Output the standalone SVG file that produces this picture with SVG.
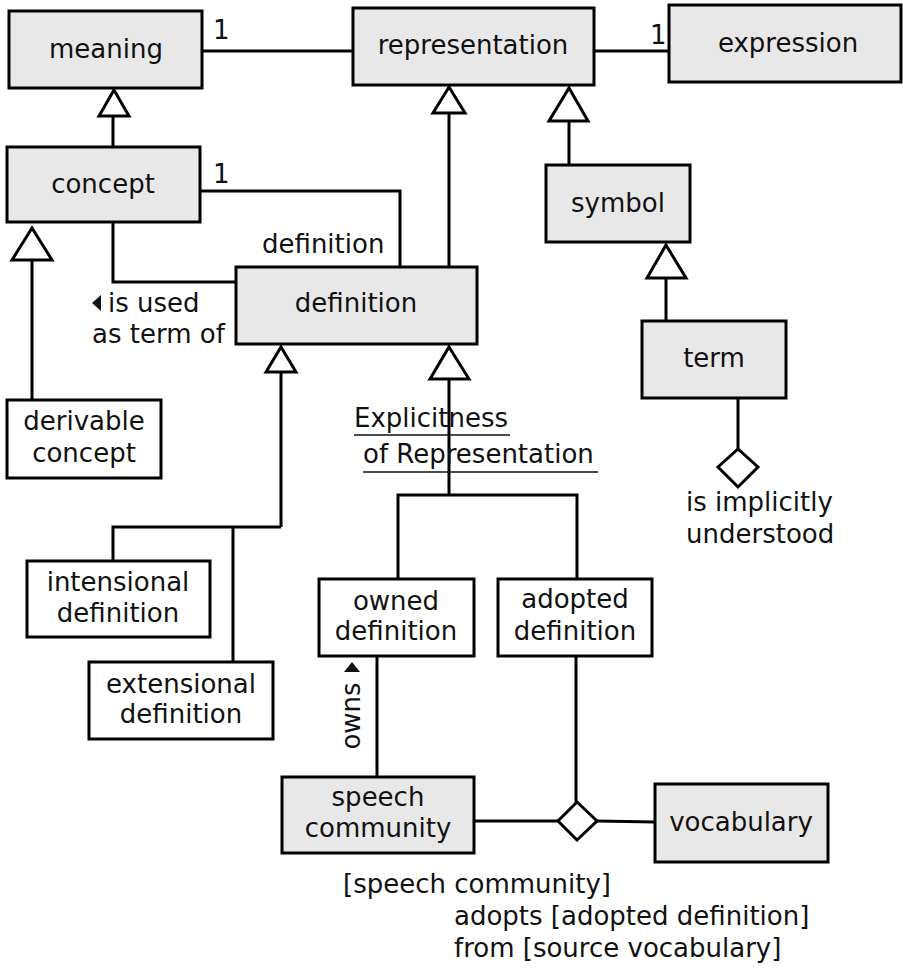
<svg xmlns="http://www.w3.org/2000/svg" width="903" height="972" viewBox="0 0 903 972">
<style>
.n{stroke:#000;stroke-width:3}
.g{fill:#e8e8e8}
.w{fill:#fff}
text{font-family:"DejaVu Sans","Liberation Sans",sans-serif;font-size:26px;fill:#111}
.c{text-anchor:middle}
.l{fill:none;stroke:#000;stroke-width:3}
.t{fill:#fff;stroke:#000;stroke-width:3;stroke-linejoin:miter}
</style>
<rect width="903" height="972" fill="#fff"/>
<g id="connectors">
<path class="l" d="M202 51H353M594 51H669"/>
<path class="l" d="M200 191H400V267M113 222V282H236"/>
<path class="l" d="M113 116V147M32 260V400M449 113V267M569 121V165M666 278V321"/>
<path class="l" d="M281 372V527M113 561V527H281M233 527V662"/>
<path class="l" d="M449 379V495M398 579V495H577V579"/>
<path class="l" d="M377 656V777M576 656V802M474 821H558M597 821L655 822M738 398V449"/>
<polygon class="t" points="114,90 129,116 99,116"/>
<polygon class="t" points="32,228 52,260 12,260"/>
<polygon class="t" points="449,87 465,113 433,113"/>
<polygon class="t" points="569,88 588,121 549,121"/>
<polygon class="t" points="666,245 686,278 647,278"/>
<polygon class="t" points="281,347 296,372 266,372"/>
<polygon class="t" points="449,347 469,379 430,379"/>
<polygon class="t" points="738,449 758,467 738,487 718,467"/>
<polygon class="t" points="577,802 597,821 577,840 558,821"/>
<text x="213" y="39">1</text>
<text x="650" y="44">1</text>
<text x="213" y="183">1</text>
<text x="262" y="253">definition</text>
<polygon points="92,303 101,295 101,311" fill="#111"/>
<text x="108" y="312">is used</text>
<text x="92" y="343">as term of</text>
<text x="354" y="427">Explicitness</text>
<path d="M354 435H510M363 472H598" stroke="#111" stroke-width="1.5"/>
<text x="363" y="463">of Representation</text>
<text x="686" y="511">is implicitly</text>
<text x="686" y="543">understood</text>
<polygon points="352,662 360,672 344,672" fill="#111"/>
<text class="c" transform="translate(360,716) rotate(-90)">owns</text>
<text x="343" y="893">[speech community]</text>
<text x="454" y="925">adopts [adopted definition]</text>
<text x="454" y="957">from [source vocabulary]</text>
</g>
<g id="meaning"><rect class="n g" x="9" y="11" width="193" height="77"/><text class="c" x="106" y="58">meaning</text></g>
<g id="representation"><rect class="n g" x="353" y="8" width="241" height="77"/><text class="c" x="473" y="54">representation</text></g>
<g id="expression"><rect class="n g" x="669" y="5" width="232" height="77"/><text class="c" x="788" y="52">expression</text></g>
<g id="concept"><rect class="n g" x="7" y="147" width="193" height="75"/><text class="c" x="103" y="193">concept</text></g>
<g id="symbol"><rect class="n g" x="546" y="165" width="144" height="77"/><text class="c" x="618" y="212">symbol</text></g>
<g id="definition"><rect class="n g" x="236" y="267" width="241" height="77"/><text class="c" x="356" y="312">definition</text></g>
<g id="term"><rect class="n g" x="642" y="321" width="144" height="77"/><text class="c" x="714" y="367">term</text></g>
<g id="derivable-concept"><rect class="n w" x="7" y="400" width="154" height="78"/><text class="c" x="84" y="430">derivable</text><text class="c" x="84" y="462">concept</text></g>
<g id="intensional-definition"><rect class="n w" x="27" y="561" width="183" height="76"/><text class="c" x="118" y="591">intensional</text><text class="c" x="118" y="622">definition</text></g>
<g id="extensional-definition"><rect class="n w" x="89" y="662" width="184" height="77"/><text class="c" x="181" y="693">extensional</text><text class="c" x="181" y="723">definition</text></g>
<g id="owned-definition"><rect class="n w" x="319" y="579" width="155" height="77"/><text class="c" x="396" y="610">owned</text><text class="c" x="396" y="640">definition</text></g>
<g id="adopted-definition"><rect class="n w" x="498" y="579" width="154" height="77"/><text class="c" x="575" y="608">adopted</text><text class="c" x="575" y="640">definition</text></g>
<g id="speech-community"><rect class="n g" x="282" y="777" width="192" height="76"/><text class="c" x="378" y="806">speech</text><text class="c" x="378" y="837">community</text></g>
<g id="vocabulary"><rect class="n g" x="655" y="784" width="173" height="78"/><text class="c" x="741" y="831">vocabulary</text></g>
</svg>
